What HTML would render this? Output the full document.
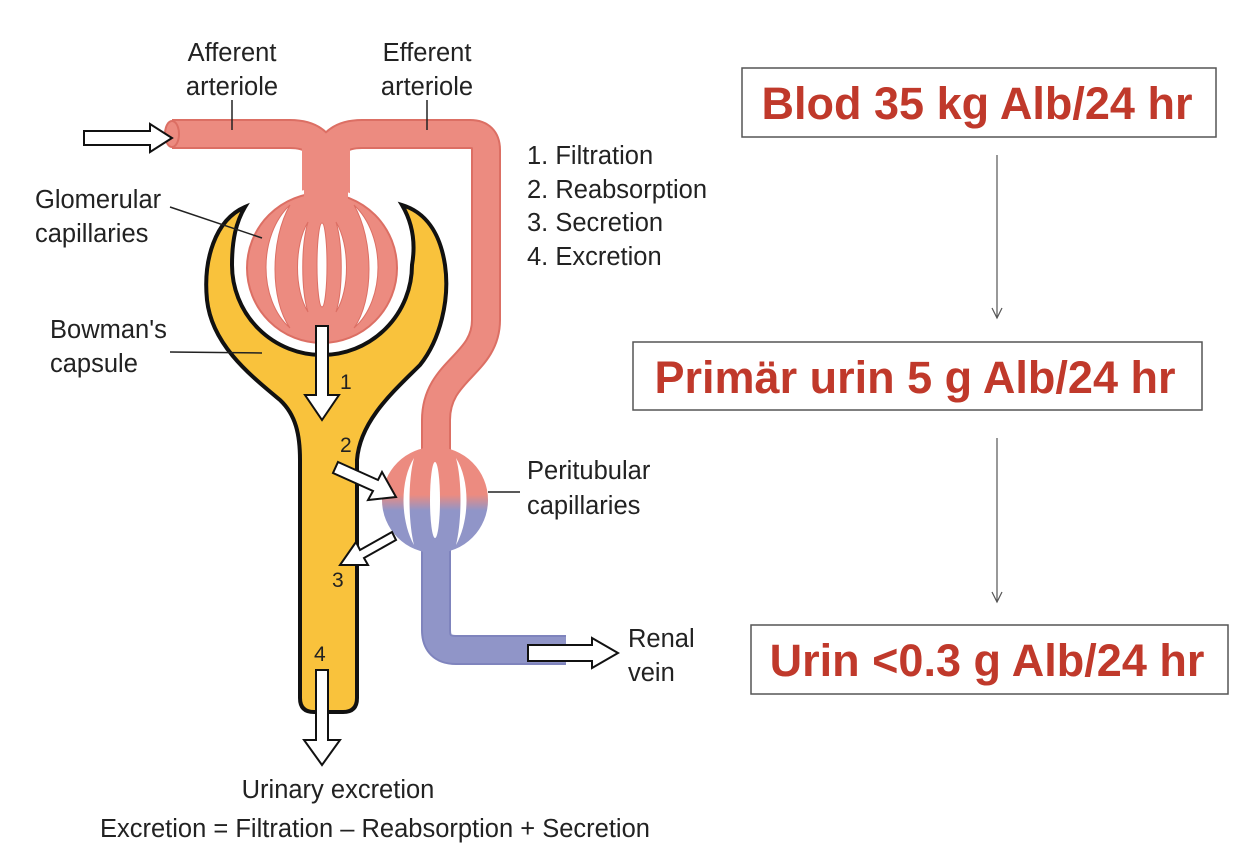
<!DOCTYPE html>
<html><head><meta charset="utf-8"><style>
body{margin:0;background:#fff;}
svg{display:block;font-family:"Liberation Sans",Arial,sans-serif;}
.lbl{font-size:25.5px;fill:#222;}
.box{fill:#fff;stroke:#555;stroke-width:1.5;}
.bt{font-size:45px;font-weight:bold;fill:#c0392b;}
</style></head><body>
<svg width="1246" height="865" viewBox="0 0 1246 865">
<defs>
<linearGradient id="pg" x1="0" y1="0" x2="0" y2="1">
<stop offset="0" stop-color="#ec8b80"/><stop offset="0.45" stop-color="#ec8b80"/><stop offset="0.6" stop-color="#9095c8"/><stop offset="1" stop-color="#9095c8"/></linearGradient>
</defs>
<g fill="none" stroke-linecap="butt" stroke-linejoin="round">
<path d="M172 134 L290 134 Q326 134 326 170 Q326 134 362 134 L470 134 Q486 134 486 150 L486 320 C486 365 436 370 436 420 L436 450" stroke="#dc6f64" stroke-width="30"/>
<path d="M172 134 L290 134 Q326 134 326 170 Q326 134 362 134 L470 134 Q486 134 486 150 L486 320 C486 365 436 370 436 420 L436 450" stroke="#ec8b80" stroke-width="26"/>
<path d="M436 550 L436 630 Q436 650 456 650 L566 650" stroke="#7f84bd" stroke-width="30"/>
<path d="M436 550 L436 630 Q436 650 456 650 L566 650" stroke="#9095c8" stroke-width="26"/>
</g>
<rect x="302" y="140" width="48" height="70" fill="#ec8b80"/>
<ellipse cx="172" cy="134" rx="7" ry="13" fill="#ec8b80" stroke="#dc6f64" stroke-width="2"/>
<path fill="#f9c23c" stroke="#111" stroke-width="4" d="M245 207 C215 220 203 260 207 300 C212 345 250 375 280 400 C296 415 300 435 300 460 L300 698 Q300 712 314 712 L343 712 Q357 712 357 698 L357 460 C360 420 395 390 420 365 C440 340 450 300 445 265 C440 232 425 212 402 205 C412 222 416 242 412 265 A90 90 0 0 1 232 265 C232 240 236 222 245 207 Z"/>
<circle cx="322" cy="268" r="80" fill="#fff"/>
<circle cx="322" cy="268" r="75" fill="#ec8b80" stroke="#dc6f64" stroke-width="2"/>
<rect x="304" y="180" width="44" height="30" fill="#ec8b80"/>
<g fill="#fff" stroke="#dc6f64" stroke-width="1">
<path d="M290 205 C258 235 258 300 290 328 C270 300 270 240 290 205Z"/>
<path d="M354 205 C386 235 386 300 354 328 C374 300 374 240 354 205Z"/>
<path d="M308 222 C294 245 294 290 308 312 C301 290 301 245 308 222Z"/>
<path d="M336 222 C350 245 350 290 336 312 C343 290 343 245 336 222Z"/>
<ellipse cx="322" cy="265" rx="5" ry="42"/>
</g>
<circle cx="435" cy="500" r="53" fill="url(#pg)"/>
<g fill="#fff">
<path d="M414 458 C400 480 400 520 414 545 C408 520 408 480 414 458Z"/>
<path d="M456 458 C470 480 470 520 456 545 C462 520 462 480 456 458Z"/>
<ellipse cx="435" cy="500" rx="5" ry="38"/>
</g>
<g fill="#fff" stroke="#111" stroke-width="2">
<path d="M84 131 L150 131 L150 124 L172 138 L150 152 L150 145 L84 145Z"/>
<path d="M316 326 L328 326 L328 395 L339 395 L322 420 L305 395 L316 395Z"/>
<path d="M338 462 L378 480 L382 472 L396 497 L368 500 L373 491 L333 473Z"/>
<path d="M392 532 L360 550 L356 542 L340 565 L368 565 L364 558 L396 540Z"/>
<path d="M316 670 L328 670 L328 740 L340 740 L322 765 L304 740 L316 740Z"/>
<path d="M528 645 L592 645 L592 638 L618 653 L592 668 L592 661 L528 661Z"/>
</g>
<g font-size="21" fill="#222">
<text x="340" y="389">1</text><text x="340" y="452">2</text><text x="332" y="587">3</text><text x="314" y="661">4</text>
</g>
<g stroke="#222" stroke-width="1.5">
<line x1="232" y1="100" x2="232" y2="130"/><line x1="427" y1="100" x2="427" y2="130"/>
<line x1="170" y1="207" x2="262" y2="238"/><line x1="170" y1="352" x2="262" y2="353"/>
<line x1="488" y1="492" x2="520" y2="492"/>
</g>
<g class="lbl">
<text x="232" y="61" text-anchor="middle">Afferent</text><text x="232" y="95" text-anchor="middle">arteriole</text>
<text x="427" y="61" text-anchor="middle">Efferent</text><text x="427" y="95" text-anchor="middle">arteriole</text>
<text x="35" y="208">Glomerular</text><text x="35" y="242">capillaries</text>
<text x="50" y="338">Bowman's</text><text x="50" y="372">capsule</text>
<text x="527" y="164">1. Filtration</text><text x="527" y="198">2. Reabsorption</text>
<text x="527" y="231">3. Secretion</text><text x="527" y="265">4. Excretion</text>
<text x="527" y="479">Peritubular</text><text x="527" y="514">capillaries</text>
<text x="628" y="647">Renal</text><text x="628" y="681">vein</text>
<text x="338" y="798" text-anchor="middle">Urinary excretion</text>
<text x="100" y="837">Excretion = Filtration – Reabsorption + Secretion</text>
</g>
<rect class="box" x="742" y="68" width="474" height="69"/>
<text class="bt" x="977" y="119" text-anchor="middle">Blod 35 kg Alb/24 hr</text>
<rect class="box" x="633" y="342" width="569" height="68"/>
<text class="bt" x="915" y="393" text-anchor="middle">Primär urin 5 g Alb/24 hr</text>
<rect class="box" x="751" y="625" width="477" height="69"/>
<text class="bt" x="987" y="676" text-anchor="middle">Urin &lt;0.3 g Alb/24 hr</text>
<g stroke="#555" stroke-width="1.2" fill="none">
<line x1="997" y1="155" x2="997" y2="318"/><path d="M992 308 L997 318 L1002 308"/>
<line x1="997" y1="438" x2="997" y2="602"/><path d="M992 592 L997 602 L1002 592"/>
</g>
</svg>
</body></html>
